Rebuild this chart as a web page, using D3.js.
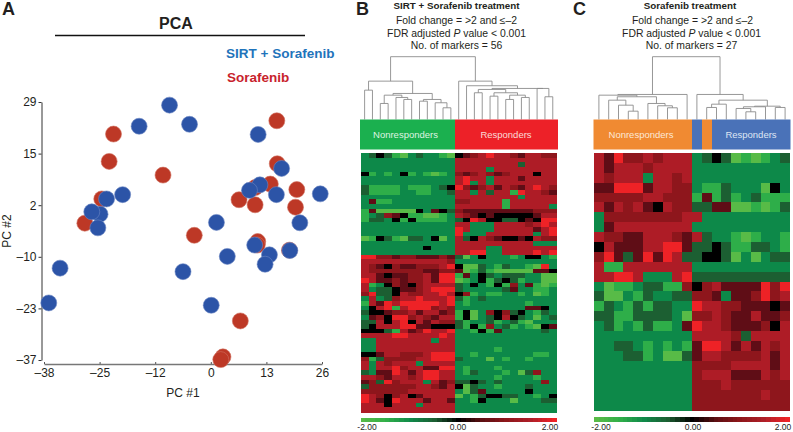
<!DOCTYPE html>
<html lang="en">
<head>
<meta charset="utf-8">
<title>PCA and heatmaps</title>
<script src="https://d3js.org/d3.v7.min.js"></script>
<style>
  html, body { margin: 0; padding: 0; background: #fff; }
  svg { display: block; }
  text { font-family: "Liberation Sans", Arial, sans-serif; fill: #231f20; }
</style>
</head>
<body>
<script>
// PCA scores
var sirtX = [-9.1,-16.1,-4.5,11.3,16.7,11.7,9.3,15.5,25.6,-19.9,-23.6,-25.1,-27,-25.6,1.7,20.9,10.5,4.2,13.9,12.9,18.6,-34.3,-6,-36.9,0.5];
var sirtY = [28.2,22.8,23.3,20.7,12,7.8,6.4,5.3,5.5,5.3,4.2,0.3,0.9,-3.2,-1.8,-1.9,-7.6,-10.5,-10.1,-12.5,-9,-13.5,-14.4,-22.4,-23];
var sorX = [-22,-23,-10.6,15.6,15.7,10.6,14.1,20.2,19.9,6.9,10.6,-24.7,-28.6,-3.4,11.2,11.1,18.5,7.2,3.2,2.7];
var sorY = [20.8,13.8,10.3,24.2,13.2,7.1,8,6.6,2.1,4,2.7,4.2,-2,-5.1,-6.7,-7.6,-8.9,-27,-36.2,-36.9];

var xTickValues = [-38,-25.2,-12.4,0.4,13.2,26];
var xTickLabels = ["–38","–25","–12","0","13","26"];
var yTickValues = [29,15.8,2.6,-10.6,-23.8,-37];
var yTickLabels = ["29","15","2","–10","–23","–37"];

// heatmap rows, one digit per cell: value = (digit - 4) / 2
var rowsB = [
"2343102322104567877657766",
"2222222222227777777777777",
"2222222222227777777737777",
"2222222222227777277777777",
"4121241210126567656777477",
"2222222222227877277757777",
"2222222222227827277777777",
"3111121112348656757657876",
"3111122112237727377187765",
"2222222222227777777727777",
"2511222222226677771777777",
"2222222222227777771777772",
"1500000425436555555555666",
"1236541100127654544444577",
"1332414111123487443345488",
"2222222222227722277776787",
"2222222222228722277777578",
"2222222222228222777777278",
"0143103324027347654454766",
"2222222222227777777777222",
"2222222242227777227777777",
"2222222222227788227777878",
"8866566555653024222124421",
"7777777777762222222222222",
"7654655666784003213221082",
"7666666655665013100000554",
"7754556675881524323332200",
"8755656675880124134312200",
"7124654677773242141625101",
"7233455678883222223522112",
"6833476677874612112212012",
"2723677877783123222222222",
"1758788888782122222221222",
"2478178886762222222225542",
"3445667577561402646342132",
"2564886765771402347432023",
"3374784757663122312310222",
"3477788554443141623121045",
"4443175687782214152222232",
"7777887777872222222222222",
"2277777772772222222222222",
"2277777777772222222222222",
"2277777777772222212222222",
"4457766678882212222222112",
"6136666778883222021221222",
"7276777277772222222222222",
"7277867755882122212222222",
"3255875788772132221203622",
"7765776788772222212222122",
"5638677727563343232222262",
"3666666776574032212223222",
"6666667777772035222224222",
"8764674577770213443322124",
"8754877757752214222022233",
"7774777277772222222222222",
"7777777777772222222222222"
];
var rowsC = [
"75866767772343010123",
"75777677772222222222",
"76777277672222222222",
"55888577662113222042",
"66666776661513123111",
"75767547663355001013",
"26666666677222222222",
"25777777772222222222",
"76655777657322101221",
"47555778853343113321",
"68535858733443020233",
"71177777772222222222",
"77887222783333333333",
"20112331164675555868",
"30021322336652556867",
"13213133228776655545",
"33113333206676557556",
"23121311258776555647",
"22222222227777637777",
"22332121215887575767",
"22233120035776666757",
"22222222226666777757",
"22222222226777555767",
"22222222226667666666",
"22222222226666666766",
"22222222226666666666"
];

// dendrograms: [distance, left, right], a plain number is a leaf column
var treeB = [62.7,
  [38.3,
    [29.3, 0, 1],
    [26,
      [24.3, [16, 2, 3], [22, 4, [20, 5, 6]]],
      [20, [18.3, 7, 8], [16.7, 9, [11.7, 10, 11]]]
    ]
  ],
  [38.3, 12,
    [33.7, 13,
      [31,
        [30, [26.7, 14, 15], [26.7, [23.3, 16, 17], [24.3, [20, 18, 19], [22, 20, 21]]]],
        [31, 22, [22.7, 23, 24]]
      ]
    ]
  ]
];
var treeC = [62.7,
  [25,
    [24.3, 0,
      [22.7,
        [19.3, 1, [14.3, 2, [8.3, 3, 4]]],
        [16, 5, [13.7, 6, [11.7, 7, 8]]]
      ]
    ],
    9
  ],
  [25, 10,
    [19.3,
      [15.3, [12, 11, 12], 13],
      [13.3,
        [12.7, [11, 14, [7.7, 15, 16]], 17],
        [12, 18, 19]
      ]
    ]
  ]
];

var colorDomain = [-2,-1.5,-1,-0.5,0,0.5,1,1.5,2];
var colorRange = ["#58bb47","#2fae4a","#10894a","#1c5e32","#000000","#5e0f12","#8e161a","#ae1f28","#ee2427"];
var legendTicks = ["-2.00","0.00","2.00"];

var svg = d3.select("body").append("svg").attr("width", 793).attr("height", 432);
var color = d3.scaleLinear().domain(colorDomain).range(colorRange);

// the source picture is a soft raster, cells run slightly into each other
svg.append("defs").append("filter").attr("id", "soft")
  .attr("x", "-2%").attr("y", "-2%").attr("width", "104%").attr("height", "104%")
  .append("feGaussianBlur").attr("stdDeviation", 0.5);

function label(str, x, y, size, weight, anchor, fill) {
  return svg.append("text").text(str).attr("x", x).attr("y", y)
    .attr("font-size", size).attr("font-weight", weight || "normal")
    .attr("text-anchor", anchor || "middle").style("fill", fill || "#231f20");
}

// --- panel A
label("A", 2, 15, 18, "bold", "start");
label("PCA", 176, 29, 16, "bold");
svg.append("line").attr("x1", 55).attr("x2", 305).attr("y1", 35.5).attr("y2", 35.5)
  .attr("stroke", "#111").attr("stroke-width", 1.5);
label("SIRT + Sorafenib", 226, 58, 13.5, "bold", "start", "#1f74bb");
label("Sorafenib", 227, 82, 13.5, "bold", "start", "#c8232c");

var x = d3.scaleLinear().domain([-38, 26]).range([44, 322]);
var y = d3.scaleLinear().domain([-37, 29]).range([360, 102]);

var xAxis = d3.axisBottom(x).tickValues(xTickValues).tickSize(-2).tickSizeOuter(0)
  .tickFormat(function(d, i) { return xTickLabels[i]; });
var yAxis = d3.axisLeft(y).tickValues(yTickValues).tickSize(3).tickSizeOuter(0)
  .tickFormat(function(d, i) { return yTickLabels[i]; });

var gx = svg.append("g").attr("transform", "translate(0,364)").call(xAxis);
var gy = svg.append("g").attr("transform", "translate(41.5,0)").call(yAxis);
gx.select(".domain").attr("stroke", "#777").attr("stroke-width", 1.3);
gx.selectAll("line").attr("stroke", "#555");
gy.select(".domain").attr("stroke", "#333");
gy.selectAll("line").attr("stroke", "#333");
gx.selectAll("text").attr("font-size", 12).attr("dy", 0).attr("y", 13);
gy.selectAll("text").attr("font-size", 12).attr("x", -5).attr("dy", "0.33em");
label("PC #1", 183, 397, 12);
label("PC #2", 0, 0, 12).attr("transform", "translate(11,231) rotate(-90)");

function dots(xs, ys, fill, edge) {
  svg.append("g").selectAll("circle").data(xs).enter().append("circle")
    .attr("cx", function(d) { return x(d); })
    .attr("cy", function(d, i) { return y(ys[i]); })
    .attr("r", 8)
    .attr("fill", fill)
    .attr("stroke", edge).attr("stroke-width", 0.6);
}
dots(sorX, sorY, "#bd3826", "#d0705f");
dots(sirtX, sirtY, "#2c54a7", "#6c87c2");

// --- heatmap, header band, tree and colour bar
function heatmap(rows, left, right, top, bottom) {
  var cx = d3.scaleBand().domain(d3.range(rows[0].length)).range([left, right]);
  var cy = d3.scaleBand().domain(d3.range(rows.length)).range([top, bottom]);
  var row = svg.append("g").attr("filter", "url(#soft)").attr("shape-rendering", "crispEdges")
    .selectAll("g").data(rows).enter().append("g")
    .attr("transform", function(d, i) { return "translate(0," + cy(i) + ")"; });
  row.selectAll("rect").data(function(d) { return d.split(""); }).enter().append("rect")
    .attr("x", function(d, i) { return cx(i); })
    .attr("width", function(d, i) { return i < rows[0].length - 1 ? cx.bandwidth() + 1 : cx.bandwidth(); })
    .attr("height", function() {
      var r = rows.indexOf(this.parentNode.__data__);
      return cy.bandwidth() + 1;
    })
    .attr("fill", function(d) { return color((+d - 4) / 2); });
  return cx;
}

function dendrogram(tree, cx) {
  var dist = d3.scaleLinear().domain([0, 62.7]).range([119.5, 56.7]);
  var g = svg.append("g").attr("fill", "none").attr("stroke", "#8c8c8c").attr("stroke-width", 0.9);
  function walk(node) {
    if (typeof node === "number") return { x: cx(node) + cx.bandwidth() / 2, y: dist(0) };
    var a = walk(node[1]), b = walk(node[2]), h = dist(node[0]);
    var path = d3.path();
    path.moveTo(a.x, a.y);
    path.lineTo(a.x, h);
    path.lineTo(b.x, h);
    path.lineTo(b.x, b.y);
    g.append("path").attr("d", path.toString());
    return { x: (a.x + b.x) / 2, y: h };
  }
  walk(tree);
}

function colorBar(left, right, top, bottom, labelX) {
  var steps = d3.range(0, 41);
  var sx = d3.scaleBand().domain(steps).range([left, right]);
  svg.append("g").attr("shape-rendering", "crispEdges").selectAll("rect").data(steps).enter().append("rect")
    .attr("x", function(d) { return sx(d); })
    .attr("y", top)
    .attr("width", sx.bandwidth() + 0.3)
    .attr("height", bottom - top)
    .attr("fill", function(d) { return color(-2 + d / 10); });
  legendTicks.forEach(function(t, i) { label(t, labelX[i], 430, 8.5); });
}

function band(x0, x1, fill) {
  svg.append("rect").attr("x", x0).attr("y", 119.5).attr("width", x1 - x0).attr("height", 30).attr("fill", fill);
}

// --- panel B
label("B", 356, 15, 18, "bold", "start");
label("SIRT + Sorafenib treatment", 456.5, 9, 9.8, "bold");
label("Fold change = >2 and ≤–2", 456.5, 24, 10.4);
var fdrB = label("FDR adjusted ", 456.5, 36.5, 10.4);
fdrB.append("tspan").text("P").attr("font-style", "italic");
fdrB.append("tspan").text(" value < 0.001");
label("No. of markers = 56", 456.5, 49, 10.4);

var cxB = heatmap(rowsB, 360.7, 556.7, 153, 412);
dendrogram(treeB, cxB);
band(360, 455, "#1bb04f");
band(455, 558, "#ed2128");
label("Nonresponders", 405.5, 138, 9.5, null, null, "#dff3e0");
label("Responders", 506, 138, 9.5, null, null, "#fbdcd8");
colorBar(360.7, 556.7, 417.5, 422, [367, 458, 550]);

// --- panel C
label("C", 573, 15, 18, "bold", "start");
label("Sorafenib treatment", 690, 9, 9.8, "bold");
label("Fold change = >2 and ≤–2", 692.5, 24, 10.4);
var fdrC = label("FDR adjusted ", 691.5, 36.5, 10.4);
fdrC.append("tspan").text("P").attr("font-style", "italic");
fdrC.append("tspan").text(" value < 0.001");
label("No. of markers = 27", 691.5, 49, 10.4);

var cxC = heatmap(rowsC, 594, 790, 153, 410);
dendrogram(treeC, cxC);
band(593.5, 692, "#f08a32");
band(692, 702, "#4a72b8");
band(702, 712, "#f08a32");
band(712, 790.5, "#4a72b8");
label("Nonresponders", 641, 138, 9.5, null, null, "#fde8d6");
label("Responders", 751, 138, 9.5, null, null, "#dfe6f4");
colorBar(594, 790, 417, 421.5, [601, 693, 783]);
</script>
</body>
</html>
